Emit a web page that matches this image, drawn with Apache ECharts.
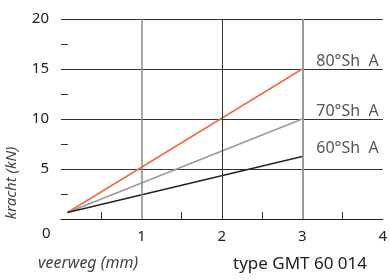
<!DOCTYPE html>
<html>
<head>
<meta charset="utf-8">
<script src="https://cdn.jsdelivr.net/npm/echarts@6/dist/echarts.min.js"></script>
<style>
  html, body { margin: 0; padding: 0; background: #fff; }
  #main { width: 390px; height: 280px; }
</style>
</head>
<body>
<div id="main"></div>
<script>
// veerweg (mm) begin/eind van de lijnen
const travel = [0.08, 3];
const hardness = ['80°Sh  A', '70°Sh  A', '60°Sh  A'];
const force80 = [0.65, 15];
const force70 = [0.65, 10];
const force60 = [0.65, 6.25];
const lineColors = ['#f26b3b', '#999999', '#222222'];
// verticale hulplijnen
const gridX = [1, 2, 3];
const gridXColors = ['#888888', '#333333', '#999999'];
const gridXWidths = [1.5, 1, 2];

const font = 'Noto Sans';
const chart = echarts.init(document.getElementById('main'));

function makeSeries(i, values) {
  return {
    name: hardness[i],
    type: 'line',
    data: travel.map((x, k) => [x, values[k]]),
    symbol: 'none',
    lineStyle: { color: lineColors[i], width: 1.5 },
    endLabel: {
      show: true,
      formatter: '{a}',
      color: '#555',
      fontFamily: font,
      fontSize: 16,
      offset: [6, -8]
    },
    z: 3
  };
}

const series = [makeSeries(0, force80), makeSeries(1, force70), makeSeries(2, force60)];
series[2].markLine = {
  silent: true,
  symbol: 'none',
  label: { show: false },
  animation: false,
  data: gridX.map((x, i) => ({
    xAxis: x,
    lineStyle: { color: gridXColors[i], width: gridXWidths[i], type: 'solid' }
  }))
};

const option = {
  backgroundColor: '#ffffff',
  animation: false,
  grid: { left: 61, right: 1, top: 19, bottom: 61 },
  xAxis: {
    type: 'value',
    min: 0,
    max: 4,
    interval: 1,
    axisLine: { show: true, lineStyle: { color: '#222', width: 1 } },
    axisTick: { show: false, inside: true },
    minorTick: { show: true, splitNumber: 2, length: 7, lineStyle: { color: '#333' } },
    splitLine: { show: false },
    axisLabel: {
      margin: 10,
      color: '#222',
      fontFamily: font,
      fontSize: 15,
      formatter: v => (v === 0 ? '' : String(v))
    }
  },
  yAxis: {
    type: 'value',
    min: 0,
    max: 20,
    interval: 5,
    axisLine: { show: false },
    axisTick: { show: false, inside: true },
    minorTick: { show: true, splitNumber: 2, length: 7, lineStyle: { color: '#333' } },
    splitLine: { show: true, lineStyle: { color: '#333', width: 1 } },
    axisLabel: {
      margin: 12,
      color: '#222',
      fontFamily: font,
      fontSize: 15,
      formatter: v => (v === 0 ? '' : String(v))
    }
  },
  graphic: [
    {
      type: 'text', left: 42, top: 226,
      style: { text: '0', fill: '#222', font: '15px "Noto Sans"' }
    },
    {
      type: 'text', x: 12, y: 183, rotation: Math.PI / 2,
      style: {
        text: 'kracht (kN)', fill: '#444', font: 'italic 15px "Noto Sans"',
        align: 'center', verticalAlign: 'middle'
      }
    },
    {
      type: 'text', left: 38, top: 255,
      style: { text: 'veerweg (mm)', fill: '#444', font: 'italic 16px "Noto Sans"' }
    },
    {
      type: 'text', left: 233, top: 256,
      style: { text: 'type GMT 60 014', fill: '#222', font: '17px "Noto Sans"' }
    }
  ],
  series: series
};
chart.setOption(option);
</script>
</body>
</html>
